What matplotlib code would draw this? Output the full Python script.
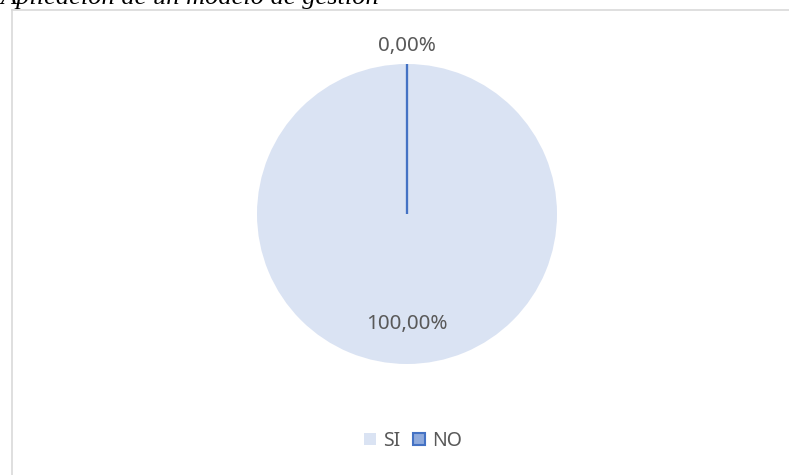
import matplotlib
matplotlib.use("Agg")
import matplotlib.pyplot as plt
from matplotlib.patches import Patch
import numpy as np

# data
categories = ["SI", "NO"]
values = [100.0, 0.0]
value_labels = ["100,00%", "0,00%"]
title = "Aplicación de un modelo de gestión"

colors = ["#DAE3F3", "#8FAADC"]
edge_colors = ["#DAE3F3", "#4472C4"]
text_grey = "#595959"

W, H = 789, 475
fig = plt.figure(figsize=(W / 100, H / 100), dpi=100)
ax = fig.add_axes([0, 0, 1, 1])

# pie (clockwise from top, like Excel)
cx, cy, r = 407, H - 214, 150
wedges, _ = ax.pie(values, colors=colors, startangle=90, counterclock=False,
                   center=(cx, cy), radius=r, frame=True,
                   wedgeprops=dict(linewidth=0))
wedges[1].set_edgecolor(edge_colors[1])
wedges[1].set_linewidth(1.5)
wedges[1].set_zorder(3)
# zero slice drawn as a single radius line
ang = np.deg2rad(wedges[1].theta1)
ax.plot([cx, cx + r * np.cos(ang)], [cy, cy + r * np.sin(ang)],
        color=edge_colors[1], lw=1.6, zorder=4, solid_capstyle="butt")

# data labels
dists = [0.73, 1.12]
for w, lab, d in zip(wedges, value_labels, dists):
    mid = np.deg2rad((w.theta1 + w.theta2) / 2)
    ax.text(cx + d * r * np.cos(mid), cy + d * r * np.sin(mid), lab,
            ha="center", va="center", fontsize=14.8, color=text_grey,
            family="Noto Sans")

ax.set_xlim(0, W)
ax.set_ylim(0, H)
ax.set_aspect("equal")
ax.axis("off")

# chart frame
ax.plot([12.5, 12.5], [0, H - 9.5], color="#D9D9D9", lw=1.2)
ax.plot([12.5, W], [H - 9.5, H - 9.5], color="#D9D9D9", lw=1.2)

# title (cut off at top, as in the source)
fig.text(0, 1 - 4 / H, title, ha="left", va="baseline", fontsize=19,
         style="italic", family="Liberation Serif", color="black")

handles = [Patch(facecolor=colors[0], edgecolor=colors[0], lw=0),
           Patch(facecolor=colors[1], edgecolor=edge_colors[1], lw=1.5)]
fig.legend(handles, categories, loc="center",
           bbox_to_anchor=(413 / W, 1 - 441 / H), ncol=2, frameon=False,
           handlelength=0.6, handleheight=0.6, handletextpad=0.35,
           columnspacing=0.7, labelcolor=text_grey,
           prop=dict(family="Noto Sans", size=14))

fig.savefig("out.png", dpi=100)
